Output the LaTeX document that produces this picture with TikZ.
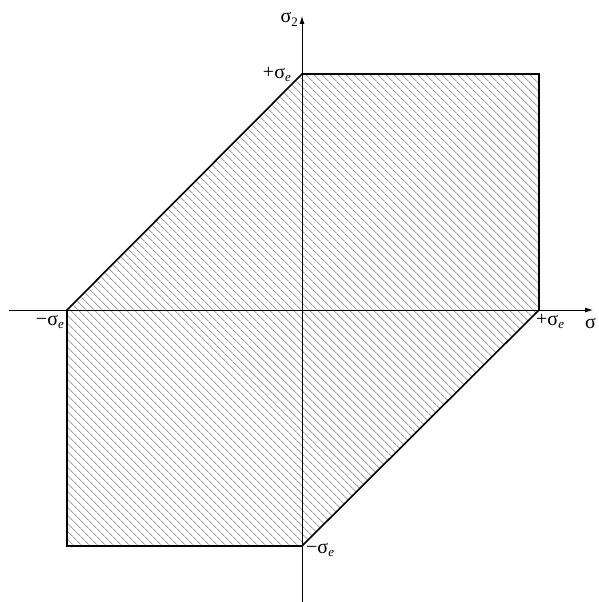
\documentclass[tikz,border=0pt]{standalone}
\usepackage{fontspec}
\setmainfont{Liberation Serif}
\usetikzlibrary{patterns.meta,arrows.meta}
\newcommand{\sub}[1]{\raisebox{-0.35ex}{\fontsize{13}{13}\selectfont #1}}
\begin{document}
\begin{tikzpicture}[x=1pt,y=-1pt,
  hatch/.style={pattern={Lines[angle=-45,distance=5.4pt,line width=0.9pt]},pattern color=black!38},
  outline/.style={line width=1.6pt,line join=miter},
  axis/.style={line width=0.8pt,-{Latex[length=8pt,width=5pt]}},
  lbl/.style={inner sep=1pt,font=\fontsize{20}{22}\selectfont}]
\useasboundingbox (0,0) rectangle (598,602);
\coordinate (L) at (67,310);
\coordinate (T) at (302,74);
\coordinate (TR) at (539,74);
\coordinate (R) at (539,310);
\coordinate (B) at (302,546);
\coordinate (BL) at (67,546);
\coordinate (O) at (302,310);
\coordinate (xs) at (9,310);
\coordinate (xe) at (593,310);
\coordinate (ys) at (302,602);
\coordinate (ye) at (302,16);
\fill[hatch] (L) -- (T) -- (TR) -- (R) -- (B) -- (BL) -- cycle;
\draw[axis] (xs) -- (xe);
\draw[axis] (ys) -- (ye);
\draw[outline] (L) -- (T) -- (TR) -- (R) -- (B) -- (BL) -- cycle;
\node[lbl,anchor=base east] (lt) at (292,78) {+σ\sub{\itshape e}};
\node[lbl,anchor=base east] (ll) at (65,325) {−σ\sub{\itshape e}};
\node[lbl,anchor=base west] (lr) at (535,325) {+σ\sub{\itshape e}};
\node[lbl,anchor=base west] (lb) at (305,553) {−σ\sub{\itshape e}};
\node[lbl,anchor=base west] (lx) at (584,328) {σ};
\node[lbl,anchor=base east] (ly) at (299,23) {σ\sub{2}};
\end{tikzpicture}
\end{document}
